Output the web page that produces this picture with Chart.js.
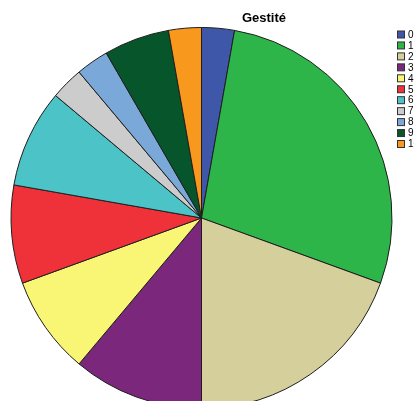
<!DOCTYPE html>
<html>
<head>
<meta charset="utf-8">
<script src="https://cdn.jsdelivr.net/npm/chart.js@4/dist/chart.umd.min.js"></script>
<style>
  html, body { margin: 0; padding: 0; background: #fff; }
  #wrap { width: 414px; height: 401px; overflow: hidden; position: relative; }
  canvas { display: block; }
</style>
</head>
<body>
<div id="wrap">
  <canvas id="pie" width="414" height="420"></canvas>
</div>
<script>
const title = "Gestité";
const labels = ["0", "1", "2", "3", "4", "5", "6", "7", "8", "9", "10"];
const counts = [1, 10, 7, 4, 3, 3, 3, 1, 1, 2, 1];
const colors = [
  "#3F57A8", "#2EB549", "#D4CF9B", "#7B287C", "#FAF675", "#EF3239",
  "#4BC3C7", "#CCCCCC", "#7AA9D9", "#07552B", "#F8991D"
];

// title and the small box legend on the right edge
const extras = {
  id: "extras",
  afterDraw(chart) {
    const ctx = chart.ctx;
    ctx.save();
    ctx.fillStyle = "#000";
    ctx.font = "bold 13px 'Liberation Sans', Arial, sans-serif";
    ctx.textAlign = "center";
    ctx.textBaseline = "alphabetic";
    ctx.fillText(title, 264, 22);

    ctx.font = "10px 'Liberation Sans', Arial, sans-serif";
    ctx.textAlign = "left";
    ctx.textBaseline = "middle";
    chart.data.labels.forEach((lab, i) => {
      const y = 30.5 + i * 10.95;
      ctx.fillStyle = chart.data.datasets[0].backgroundColor[i];
      ctx.fillRect(397.5, y + 0.5, 7, 7);
      ctx.strokeStyle = "#333";
      ctx.lineWidth = 1;
      ctx.strokeRect(397.5, y + 0.5, 7, 7);
      ctx.fillStyle = "#000";
      ctx.fillText(lab, 408, y + 4.5);
    });
    ctx.restore();
  }
};

new Chart(document.getElementById("pie"), {
  type: "pie",
  data: {
    labels: labels,
    datasets: [{
      data: counts,
      backgroundColor: colors,
      borderColor: "#1e1e1e",
      borderWidth: 1
    }]
  },
  options: {
    responsive: false,
    animation: false,
    layout: { padding: { left: 10, right: 21, top: 27, bottom: 11 } },
    plugins: {
      legend: { display: false },
      tooltip: { enabled: false }
    }
  },
  plugins: [extras]
});
</script>
</body>
</html>
